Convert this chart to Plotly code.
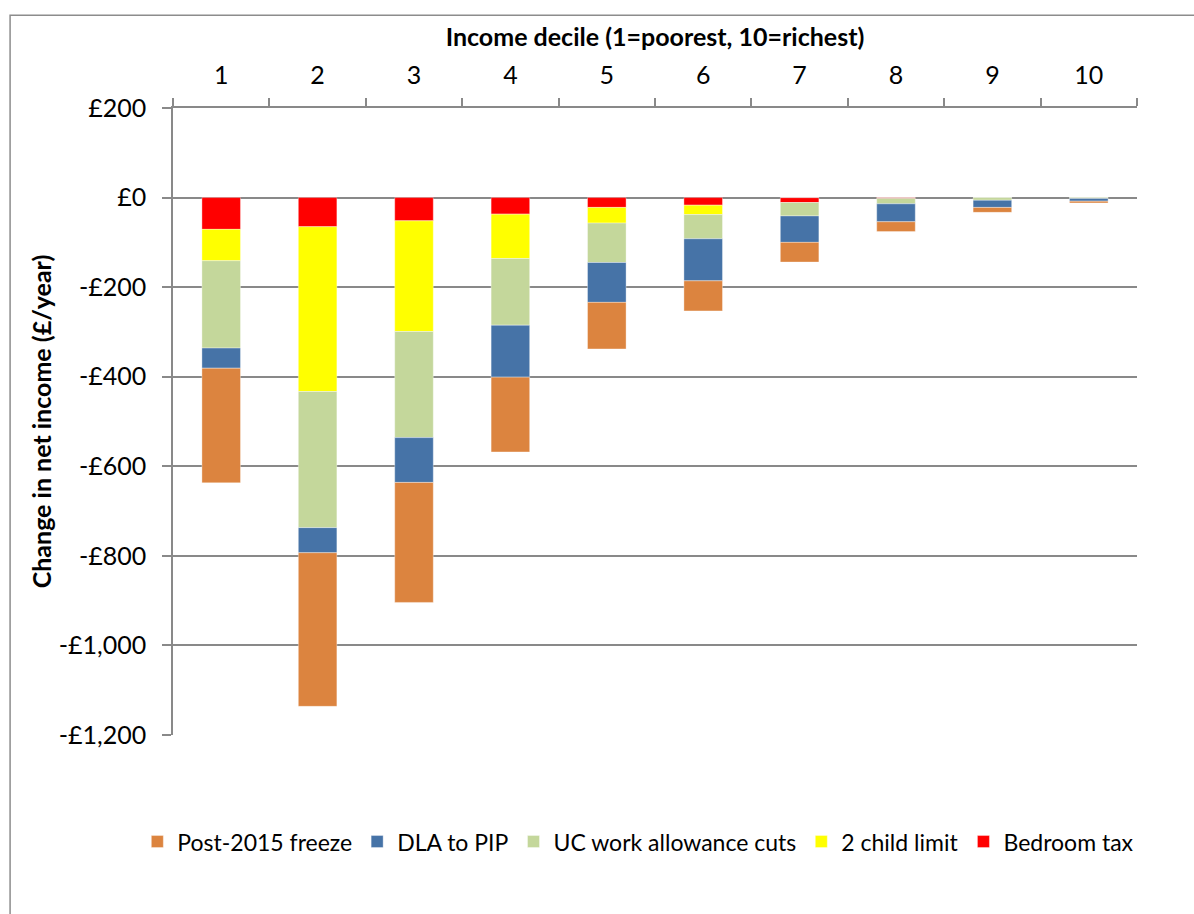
import plotly.graph_objects as go

# Income deciles (1 = poorest, 10 = richest)
deciles = ["1", "2", "3", "4", "5", "6", "7", "8", "9", "10"]

# Change in net income per measure, £/year (stacked from £0 downwards)
bedroom_tax = [-71, -65, -52, -37, -22, -17, -11, -2, 0, 0]
two_child_limit = [-70, -368, -247, -99, -35, -21, 0, 0, 0, 0]
uc_work_allowance = [-195, -304, -237, -149, -88, -54, -30, -12, -6, -2]
dla_to_pip = [-45, -56, -100, -116, -89, -94, -59, -40, -16, -6]
post_2015_freeze = [-256, -343, -268, -167, -104, -67, -44, -22, -11, -4]

y_tick_vals = [200, 0, -200, -400, -600, -800, -1000, -1200]
y_tick_text = ["£200", "£0", "-£200", "-£400", "-£600", "-£800", "-£1,000", "-£1,200"]

series = [
    ("Bedroom tax", bedroom_tax, "#FF0000"),
    ("2 child limit", two_child_limit, "#FFFF00"),
    ("UC work allowance cuts", uc_work_allowance, "#C4D79B"),
    ("DLA to PIP", dla_to_pip, "#4673A7"),
    ("Post-2015 freeze", post_2015_freeze, "#DC843F"),
]

FONT = "Lato, Calibri, Carlito, 'Open Sans', sans-serif"
AXIS_GREY = "#898989"

fig = go.Figure()
for name, vals, color in series:
    fig.add_trace(go.Bar(
        x=deciles, y=vals, name=name,
        marker=dict(color=color, line=dict(color="rgba(255,255,255,0.6)", width=0.6)),
    ))

fig.update_layout(
    width=1194, height=914,
    margin=dict(l=173, r=57, t=108, b=179),
    paper_bgcolor="white", plot_bgcolor="white",
    barmode="relative", bargap=0.6,
    font=dict(family=FONT, size=25, color="black"),
    legend=dict(
        orientation="h", traceorder="reversed",
        x=-0.037, xanchor="left", y=-0.17, yanchor="middle",
        font=dict(size=23), itemwidth=30,
    ),
    xaxis=dict(
        side="top", type="category",
        title=dict(text="<b>Income decile (1=poorest, 10=richest)</b>",
                   font=dict(size=25), standoff=6),
        showline=True, linecolor=AXIS_GREY, linewidth=1.5,
        ticks="outside", tickson="boundaries", ticklen=8,
        tickcolor=AXIS_GREY, tickwidth=1.5,
        ticklabelstandoff=12, showgrid=False,
    ),
    yaxis=dict(
        range=[-1200, 200],
        tickvals=y_tick_vals, ticktext=y_tick_text,
        title=dict(text="<b>Change in net income (£/year)</b>",
                   font=dict(size=25), standoff=0),
        showline=True, linecolor=AXIS_GREY, linewidth=1.5,
        ticks="outside", ticklen=9, tickcolor=AXIS_GREY, tickwidth=1.5,
        showgrid=True, gridcolor=AXIS_GREY, gridwidth=1.5,
        zeroline=False, ticklabelstandoff=11,
    ),
    shapes=[dict(
        type="rect", xref="paper", yref="paper",
        x0=-0.169, x1=1.07, y0=-0.30, y1=1.148,
        line=dict(color="#8C8C8C", width=1.5), layer="below",
    )],
)

fig.write_html("out.html")
